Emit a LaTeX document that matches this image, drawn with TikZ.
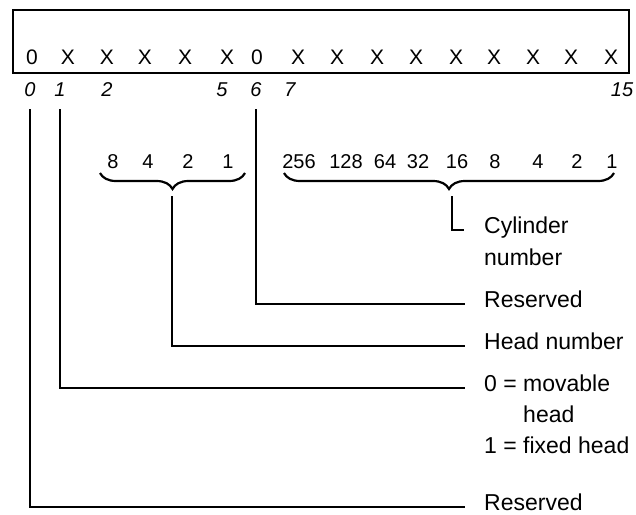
\documentclass[tikz,border=0pt]{standalone}
\usepackage{fontspec}
\setmainfont{Liberation Sans}
\usetikzlibrary{decorations.pathreplacing}

\begin{document}
\begin{tikzpicture}[
    x=1pt, y=-1pt,
    regbox/.style={draw, line width=2pt, minimum width=616pt, minimum height=63pt, inner sep=0pt},
    bitchar/.style={font=\fontsize{21}{25}\selectfont, inner sep=0pt},
    bitnum/.style={font=\fontsize{20}{24}\selectfont\itshape, inner sep=0pt},
    weight/.style={font=\fontsize{20}{24}\selectfont, inner sep=0pt},
    desc/.style={font=\fontsize{23}{27}\selectfont, anchor=west, inner sep=0pt,
                 text height=0.72em, text depth=0pt},
    lead/.style={line width=1.8pt},
    curly/.style={line width=2.2pt, decorate, decoration={brace, mirror, amplitude=16pt}}
]
\useasboundingbox (0,0) rectangle (636,514);

%% --- Register ---
\node[regbox] (reg) at (320.8,41) {};
\foreach \x/\c [count=\i from 0] in {32/0, 68/X, 107/X, 145/X, 185/X, 227/X, 257/0,
    298/X, 337/X, 377/X, 416/X, 456/X, 494/X, 533/X, 571/X, 611/X}
    \node[bitchar] (b\i) at (\x,57.5) {\c};

%% --- Bit numbers ---
\foreach \x/\n in {30/0, 60/1, 107/2, 222/5, 256/6, 290/7, 622/15}
    \node[bitnum] (n\n) at (\x,90) {\n};

%% --- Weights ---
\foreach \x/\w [count=\i] in {113/8, 148/4, 188/2, 228/1}
    \node[weight] (hw\i) at (\x,162) {\w};
\foreach \x/\w [count=\i] in {299/256, 346/128, 385/64, 418/32, 457/16, 495/8, 538/4, 577/2, 612/1}
    \node[weight] (cw\i) at (\x,162) {\w};

%% --- Braces ---
\coordinate (hbl) at (100,173);
\coordinate (hbr) at (245,173);
\coordinate (cbl) at (284,173);
\coordinate (cbr) at (614,173);
\draw[curly] (hbl) -- (hbr);
\draw[curly] (cbl) -- (cbr);
\coordinate (headtip) at (172,196);
\coordinate (cyltip) at (452,196);

%% --- Descriptions ---
\node[desc] (cyl)     at (484,230) {Cylinder};
\node[desc] (cyl2)    at (484,262) {number};
\node[desc] (rsvhigh) at (484,304) {Reserved};
\node[desc] (head)    at (484,346) {Head number};
\node[desc] (mov)     at (484,388) {0 = movable};
\node[desc] (mov2)    at (484,419) {\phantom{0 = }head};
\node[desc] (fix)     at (484,450) {1 = fixed head};
\node[desc] (rsvlow)  at (484,507) {Reserved};

%% --- Leads ---
\draw[lead, shorten >=20pt] (cyltip) |- (cyl.west);
\draw[lead, shorten >=19pt] (headtip) |- (head.west);
\draw[lead, shorten <=12pt, shorten >=19pt] (n6.south) |- (rsvhigh.west);
\draw[lead, shorten <=12pt, shorten >=19pt] (n1.south) |- (mov.west);
\draw[lead, shorten <=12pt, shorten >=19pt] (n0.south) |- (rsvlow.west);

\end{tikzpicture}
\end{document}
